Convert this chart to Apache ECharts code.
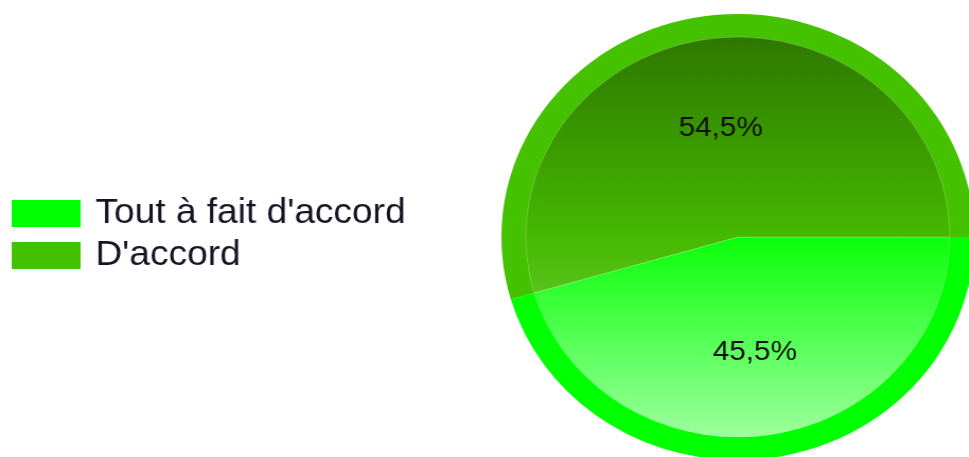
<!DOCTYPE html>
<html>
<head>
<meta charset="utf-8">
<script src="https://cdn.jsdelivr.net/npm/echarts@6/dist/echarts.min.js"></script>
<style>
  html, body { margin: 0; padding: 0; background: #fff; overflow: hidden; }
  /* l'original est une image étirée horizontalement (~1.06) */
  #chart { width: 914px; height: 457px; transform: scaleX(1.06); transform-origin: 0 0; }
</style>
</head>
<body>
<div id="chart"></div>
<script>
const CATEGORIES = ["Tout à fait d'accord", "D'accord"];
const VALUES = [45.5, 54.5];
const RING_COLORS = ["#00ff00", "#44c200"];
const LABEL_NUDGE = [[0, 2], [0, 5]];

const CX = 696, CY = 237, R_OUT = 223, R_IN = 200;

// dégradé vertical sur le disque intérieur (coordonnées écran)
function grad(stops) {
  return {
    type: "linear", global: true,
    x: 0, y: CY - R_IN, x2: 0, y2: CY + R_IN,
    colorStops: stops.map(([offset, color]) => ({ offset, color }))
  };
}
const INNER_FILLS = [
  grad([[0, "#00ff00"], [0.5, "#0aff0a"], [1, "#9dff9d"]]),
  grad([[0, "#2e7800"], [0.5, "#45b900"], [1, "#8ad85c"]])
];

const chart = echarts.init(document.getElementById("chart"));
const base = {
  type: "pie",
  center: [CX, CY],
  startAngle: 0,
  clockwise: true,
  animation: false,
  silent: true,
  labelLine: { show: false }
};

chart.setOption({
  legend: {
    orient: "vertical",
    left: 11,
    top: 196,
    padding: 0,
    icon: "rect",
    itemWidth: 65,
    itemHeight: 27,
    itemGap: 7,
    data: CATEGORIES,
    textStyle: { fontFamily: "Liberation Sans, Arial", fontSize: 35, lineHeight: 27, color: "#151525", padding: [0, 0, 0, 9] }
  },
  series: [
    {
      ...base,
      radius: [0, R_OUT],
      label: { show: false },
      data: CATEGORIES.map((name, i) => ({ name, value: VALUES[i], itemStyle: { color: RING_COLORS[i] } }))
    },
    {
      ...base,
      radius: [0, R_IN],
      label: { show: false },
      itemStyle: { borderColor: "rgba(255,255,255,0.22)", borderWidth: 1 },
      data: CATEGORIES.map((name, i) => ({ name, value: VALUES[i], itemStyle: { color: INNER_FILLS[i] } }))
    },
    {
      ...base,
      radius: [0, R_OUT],
      z: 5,
      itemStyle: { color: "transparent" },
      label: {
        show: true,
        position: "inside",
        fontFamily: "Liberation Sans, Arial",
        fontSize: 28,
        color: "#111",
        formatter: p => p.value.toFixed(1).replace(".", ",") + "%"
      },
      data: CATEGORIES.map((name, i) => ({ name, value: VALUES[i], label: { offset: LABEL_NUDGE[i] } }))
    }
  ]
});
</script>
</body>
</html>
